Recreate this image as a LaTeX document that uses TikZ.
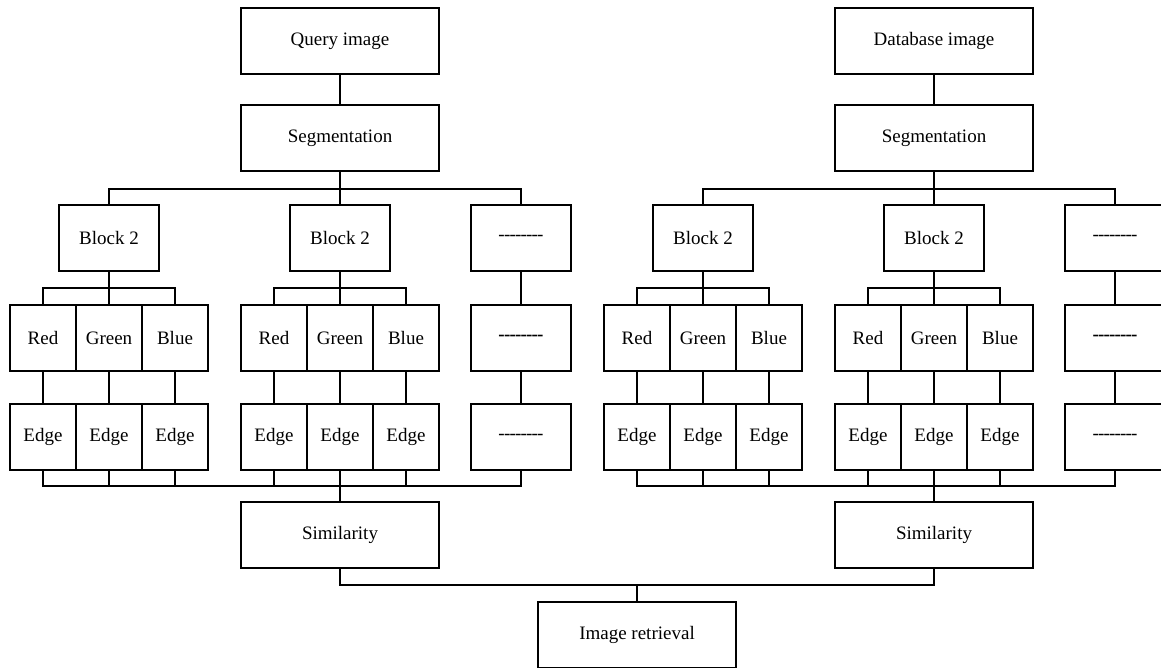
\documentclass[tikz,border=0pt]{standalone}
\usepackage{fontspec}
\setmainfont{Liberation Serif}
\newcommand\dashline{-\kern-0.8pt-\kern-0.8pt-\kern-0.8pt-\kern-0.8pt-\kern-0.8pt-\kern-0.8pt-\kern-0.8pt-}
\begin{document}
\begin{tikzpicture}[x=1pt,y=-1pt,line width=2pt,
  bx/.style={draw,line width=2pt,inner sep=0pt,minimum height=66pt,font=\fontsize{19}{22}\selectfont},
  wide/.style={bx,minimum width=198pt},
  blk/.style={bx,minimum width=100pt},
  cell/.style={bx,minimum width=66pt}]
\useasboundingbox (0,0) rectangle (1161,668);
\clip (0,0) rectangle (1161,668);
% top
\node[wide] (qimg) at (340,41) {Query image};
\node[wide] (dimg) at (934,41) {Database image};
\node[wide] (segL) at (340,138) {Segmentation};
\node[wide] (segR) at (934,138) {Segmentation};
\draw (qimg) -- (segL);
\draw (dimg) -- (segR);
% groups
\foreach \n/\x in {A/109,B/340,C/703,D/934} {
  \node[blk] (blk\n) at (\x,238) {Block 2};
  \node[cell] (r\n) at (\x-66,338) {Red};
  \node[cell] (g\n) at (\x,338) {Green};
  \node[cell] (u\n) at (\x+66,338) {Blue};
  \node[cell] (ea\n) at (\x-66,437) {Edge};
  \node[cell] (eb\n) at (\x,437) {Edge};
  \node[cell] (ec\n) at (\x+66,437) {Edge};
  \foreach \c in {r\n,g\n,u\n} \draw (blk\n.south) -- ++(0,16) -| (\c.north);
  \draw (r\n) -- (ea\n);
  \draw (g\n) -- (eb\n);
  \draw (u\n) -- (ec\n);
}
% dash columns
\foreach \n/\x in {L/521,R/1115} {
  \node[blk] (da\n) at (\x,238) {\dashline};
  \node[blk] (db\n) at (\x,338) {\bfseries\dashline};
  \node[blk] (dc\n) at (\x,437) {\dashline};
  \draw (da\n) -- (db\n);
  \draw (db\n) -- (dc\n);
}
% segmentation to blocks
\foreach \c in {blkA,blkB,daL} \draw (segL.south) -- ++(0,17) -| (\c.north);
\foreach \c in {blkC,blkD,daR} \draw (segR.south) -- ++(0,17) -| (\c.north);
% similarity
\node[wide] (simL) at (340,535) {Similarity};
\node[wide] (simR) at (934,535) {Similarity};
\foreach \c in {eaA,ebA,ecA,eaB,ebB,ecB,dcL} \draw (simL.north) -- ++(0,-15) -| (\c.south);
\foreach \c in {eaC,ebC,ecC,eaD,ebD,ecD,dcR} \draw (simR.north) -- ++(0,-15) -| (\c.south);
% retrieval
\node[wide] (ret) at (637,635) {Image retrieval};
\draw (simL.south) -- ++(0,16) -| (ret.north);
\draw (simR.south) -- ++(0,16) -| (ret.north);
\end{tikzpicture}
\end{document}
